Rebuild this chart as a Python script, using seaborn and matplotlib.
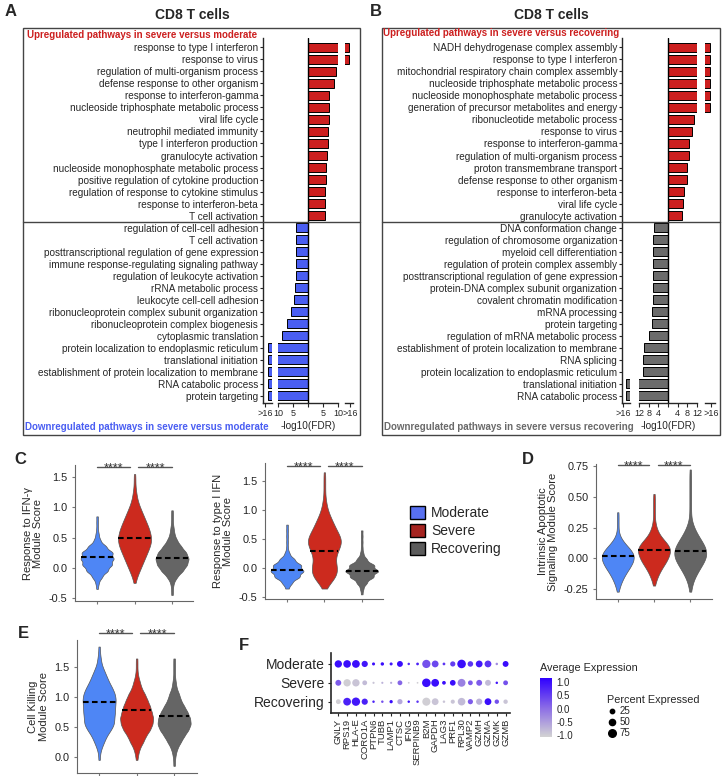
import numpy as np
import pandas as pd
import seaborn as sns
import matplotlib.pyplot as plt
from matplotlib.patches import Patch, Rectangle
from matplotlib.lines import Line2D
from matplotlib.colors import LinearSegmentedColormap, Normalize
from matplotlib.cm import ScalarMappable

sns.set_style("ticks")
plt.rcParams["font.family"] = ["Liberation Sans", "DejaVu Sans"]

W, H = 727, 776

# ---- A: GO terms, severe vs moderate, -log10(FDR); 17 stands for ">16" (beyond axis break)
a_up_terms = ["response to type I interferon", "response to virus",
              "regulation of multi-organism process", "defense response to other organism",
              "response to interferon-gamma", "nucleoside triphosphate metabolic process",
              "viral life cycle", "neutrophil mediated immunity", "type I interferon production",
              "granulocyte activation", "nucleoside monophosphate metabolic process",
              "positive regulation of cytokine production",
              "regulation of response to cytokine stimulus", "response to interferon-beta",
              "T cell activation"]
a_up_vals = [17, 17, 9.2, 8.7, 7.0, 7.0, 7.0, 6.8, 6.8, 6.2, 6.0, 5.9, 5.8, 5.7, 5.7]
a_down_terms = ["regulation of cell-cell adhesion", "T cell activation",
                "posttranscriptional regulation of gene expression",
                "immune response-regulating signaling pathway",
                "regulation of leukocyte activation", "rRNA metabolic process",
                "leukocyte cell-cell adhesion", "ribonucleoprotein complex subunit organization",
                "ribonucleoprotein complex biogenesis", "cytoplasmic translation",
                "protein localization to endoplasmic reticulum", "translational initiation",
                "establishment of protein localization to membrane", "RNA catabolic process",
                "protein targeting"]
a_down_vals = [3.9, 3.9, 4.1, 4.1, 4.1, 4.4, 4.8, 5.6, 7.0, 8.6, 17, 17, 17, 17, 17]

# ---- B: GO terms, severe vs recovering
b_up_terms = ["NADH dehydrogenase complex assembly", "response to type I interferon",
              "mitochondrial respiratory chain complex assembly",
              "nucleoside triphosphate metabolic process",
              "nucleoside monophosphate metabolic process",
              "generation of precursor metabolites and energy",
              "ribonucleotide metabolic process", "response to virus",
              "response to interferon-gamma", "regulation of multi-organism process",
              "proton transmembrane transport", "defense response to other organism",
              "response to interferon-beta", "viral life cycle", "granulocyte activation"]
b_up_vals = [17, 17, 17, 17, 17, 17, 10.6, 9.9, 8.8, 8.5, 8.0, 7.9, 6.5, 6.1, 5.8]
b_down_terms = ["DNA conformation change", "regulation of chromosome organization",
                "myeloid cell differentiation", "regulation of protein complex assembly",
                "posttranscriptional regulation of gene expression",
                "protein-DNA complex subunit organization", "covalent chromatin modification",
                "mRNA processing", "protein targeting", "regulation of mRNA metabolic process",
                "establishment of protein localization to membrane", "RNA splicing",
                "protein localization to endoplasmic reticulum", "translational initiation",
                "RNA catabolic process"]
b_down_vals = [5.9, 6.2, 6.2, 6.2, 6.2, 6.2, 6.2, 6.6, 6.6, 8.0, 9.8, 10.3, 10.3, 17, 17]

# ---- C/D/E: module scores as binned cell counts (score bin -> number of cells)
groups = ["Moderate", "Severe", "Recovering"]
ifng_bins = [-0.45, -0.35, -0.25, -0.15, -0.05, 0.05, 0.15, 0.25, 0.35, 0.45, 0.55,
             0.65, 0.75, 0.85, 0.95, 1.05, 1.15, 1.25, 1.35, 1.45, 1.55]
ifng_mod = [0, 1, 2, 6, 13, 18, 20, 19, 11, 4, 2, 1, 1, 1, 0, 0, 0, 0, 0, 0, 0]
ifng_sev = [0, 0, 1, 3, 6, 9, 12, 15, 18, 20, 19, 17, 14, 11, 8, 5, 3, 2, 1, 1, 1]
ifng_rec = [1, 1, 2, 6, 13, 18, 20, 17, 11, 6, 3, 2, 1, 1, 1, 0, 0, 0, 0, 0, 0]
ifng_medians = [0.18, 0.50, 0.155]

ifn1_bins = [-0.45, -0.35, -0.25, -0.15, -0.05, 0.05, 0.15, 0.25, 0.35, 0.45, 0.55,
             0.65, 0.75, 0.85, 0.95, 1.05, 1.15, 1.25, 1.35, 1.45, 1.55, 1.65]
ifn1_mod = [0, 2, 6, 15, 20, 17, 9, 3, 1, 1, 1, 1, 1, 0, 0, 0, 0, 0, 0, 0, 0, 0]
ifn1_sev = [0, 2, 7, 13, 15, 14, 12, 14, 17, 20, 18, 14, 11, 8, 5, 3, 2, 1, 1, 1, 1, 1]
ifn1_rec = [1, 2, 6, 14, 20, 15, 6, 2, 1, 1, 1, 1, 0, 0, 0, 0, 0, 0, 0, 0, 0, 0]
ifn1_medians = [-0.03, 0.30, -0.04]

apop_bins = [-0.275, -0.225, -0.175, -0.125, -0.075, -0.025, 0.025, 0.075, 0.125, 0.175,
             0.225, 0.275, 0.325, 0.375, 0.425, 0.475, 0.525, 0.575, 0.625, 0.675, 0.725]
apop_mod = [1, 3, 6, 10, 15, 19, 20, 15, 8, 3, 1, 1, 1, 1, 0, 0, 0, 0, 0, 0, 0]
apop_sev = [0, 1, 3, 6, 10, 15, 18, 20, 15, 8, 4, 2, 1, 1, 1, 1, 1, 0, 0, 0, 0]
apop_rec = [1, 2, 4, 8, 12, 17, 20, 19, 15, 10, 6, 3, 1, 1, 1, 1, 1, 1, 1, 1, 1]
apop_medians = [0.02, 0.07, 0.06]

kill_bins = [-0.15, -0.05, 0.05, 0.15, 0.25, 0.35, 0.45, 0.55, 0.65, 0.75, 0.85,
             0.95, 1.05, 1.15, 1.25, 1.35, 1.45, 1.55, 1.65, 1.75, 1.85]
kill_mod = [0, 1, 1, 3, 6, 9, 14, 18, 18, 19, 19, 20, 19, 16, 12, 9, 6, 3, 2, 1, 1]
kill_sev = [0, 1, 2, 4, 8, 11, 16, 19, 20, 18, 16, 13, 10, 6, 4, 2, 1, 1, 1, 0, 0]
kill_rec = [1, 1, 2, 4, 8, 12, 17, 20, 19, 16, 12, 8, 6, 3, 2, 1, 1, 1, 1, 0, 0]
kill_medians = [0.92, 0.78, 0.69]

# ---- F: dot plot
genes = ["GNLY", "RPS19", "HLA-E", "CORO1A", "PTPN6", "TUBB", "LAMP1", "CTSC", "IFNG",
         "SERPINB9", "B2M", "GAPDH", "LAG3", "PRF1", "RPL30", "VAMP2", "GZMH", "GZMA",
         "GZMK", "GZMB"]
avg_mod = [1.0, 1.0, 1.0, 0.9, 1.0, 1.0, 0.9, 1.0, 0.7, 0.8, 0.3, 0.4, 0.6, 0.5, 1.0, 0.6,
           0.9, 0.6, -0.3, 1.0]
pct_mod = [70, 75, 78, 50, 12, 15, 12, 45, 8, 10, 88, 60, 10, 35, 95, 40, 60, 60, 8, 45]
avg_sev = [0.2, -1.0, -0.9, -0.8, -0.9, -0.7, -0.6, 0.1, -1.0, -1.0, 1.0, 1.0, 1.0, 1.0, -0.2,
           0.2, 0.2, -0.8, 0.9, 0.3]
pct_sev = [45, 70, 70, 30, 6, 6, 6, 30, 4, 4, 95, 78, 18, 42, 80, 30, 45, 45, 8, 30]
avg_rec = [-1.0, 0.8, 0.9, 0.8, 0.8, 0.3, 1.0, -0.6, 0.9, 0.6, -1.0, -0.9, -0.9, -0.9, -0.8,
           0.2, -0.7, 1.0, 0.3, -0.9]
pct_rec = [30, 78, 90, 50, 8, 8, 14, 35, 8, 8, 85, 60, 8, 22, 75, 35, 50, 60, 25, 25]

RED = "#cc1f1f"
BLUE_BAR = "#4a5ef2"
GRAY_BAR = "#6b6b6b"
violin_colors = {"Moderate": "#4e86f5", "Severe": "#cc2a1e", "Recovering": "#656565"}
legend_colors = ["#5870f0", "#a52420", "#5c5c5c"]
DOT_MAX = 40

fig = plt.figure(figsize=(W / 100, H / 100), dpi=100)


def px_axes(x0, y0, x1, y1):
    return fig.add_axes([x0 / W, 1 - y1 / H, (x1 - x0) / W, (y1 - y0) / H])


def ftext(x, y, s, **kw):
    fig.text(x / W, 1 - y / H, s, **kw)


def go_panel(cols, up_terms, up_vals, down_terms, down_vals, down_color, lim, step, left_tick):
    terms = up_terms + down_terms
    df = pd.DataFrame({
        "row": range(len(terms)),
        "value": up_vals + [-v for v in down_vals],
        "direction": ["up"] * len(up_terms) + ["down"] * len(down_terms),
    })
    main_ticks = list(range(-lim, lim + 1, step))
    main_labels = [str(abs(t)) if t else "" for t in main_ticks]
    specs = [((-18, -16), [left_tick], [">16"]),
             ((-lim, lim), main_ticks, main_labels),
             ((16, 18), [17.2], [">16"])]
    axes = []
    for (x0, x1), (xlim, ticks, labels) in zip(cols, specs):
        ax = px_axes(x0, 38, x1, 403)
        sns.barplot(data=df, x="value", y="row", hue="direction",
                    palette={"up": RED, "down": down_color}, orient="h", dodge=False,
                    width=0.75, errorbar=None, edgecolor="black", linewidth=0.7,
                    saturation=1, legend=False, ax=ax)
        ax.set_xlim(*xlim)
        ax.set_ylim(len(terms) - 0.4, -0.78)
        ax.set_xticks(ticks, labels)
        ax.tick_params(axis="x", labelsize=6.5, length=3, width=0.8, pad=1.5)
        ax.set_xlabel("")
        ax.set_ylabel("")
        for s in ("top", "right"):
            ax.spines[s].set_visible(False)
        ax.spines["bottom"].set_linewidth(1)
        ax.spines["left"].set_linewidth(1)
        axes.append(ax)
    left, main, right = axes
    left.set_yticks(range(len(terms)), terms)
    left.tick_params(axis="y", labelsize=7.2, length=2.5, width=0.8, pad=1)
    for ax in (main, right):
        ax.spines["left"].set_visible(False)
        ax.set_yticks([])
    main.axvline(0, color="black", lw=1)
    main.set_xlabel("-log10(FDR)", fontsize=7.2, labelpad=2)
    return left


def frame(x0, x1, ax_left, n_up):
    fig.add_artist(Rectangle((x0 / W, 1 - 435 / H), (x1 - x0) / W, (435 - 28) / H,
                             transform=fig.transFigure, fill=False, ec="#444444", lw=1))
    y = fig.transFigure.inverted().transform(ax_left.transData.transform((0, n_up - 0.5)))[1]
    fig.add_artist(Line2D([x0 / W, x1 / W], [y, y], transform=fig.transFigure,
                          color="#444444", lw=1))


# ---------------- A
ax_a = go_panel([(263, 272), (278, 338), (345, 353)], a_up_terms, a_up_vals,
                a_down_terms, a_down_vals, BLUE_BAR, 10, 5, -17.6)
frame(23, 360, ax_a, len(a_up_terms))
ftext(27, 34.5, "Upregulated pathways in severe versus moderate", color=RED,
      fontsize=7, fontweight="bold", va="center")
ftext(25, 427, "Downregulated pathways in severe versus moderate", color=BLUE_BAR,
      fontsize=7, fontweight="bold", va="center")
ftext(192, 15, "CD8 T cells", fontsize=10, fontweight="bold", ha="center", va="center")
ftext(11, 12, "A", fontsize=12, fontweight="bold", ha="center", va="center")

# ---------------- B
ax_b = go_panel([(622, 630), (639, 697), (705, 715)], b_up_terms, b_up_vals,
                b_down_terms, b_down_vals, GRAY_BAR, 12, 4, -17.8)
frame(382, 720, ax_b, len(b_up_terms))
ftext(383, 33.5, "Upregulated pathways in severe versus recovering", color=RED,
      fontsize=7, fontweight="bold", va="center")
ftext(384, 426.7, "Downregulated pathways in severe versus recovering", color="#6a6a6a",
      fontsize=7, fontweight="bold", va="center")
ftext(551, 15, "CD8 T cells", fontsize=10, fontweight="bold", ha="center", va="center")
ftext(376, 12, "B", fontsize=12, fontweight="bold", ha="center", va="center")


# ---------------- violins
def span_at(poly, y):
    v = poly.get_paths()[0].vertices
    xs = []
    for (x0, y0), (x1, y1) in zip(v[:-1], v[1:]):
        if y0 != y1 and (y0 - y) * (y1 - y) <= 0:
            xs.append(x0 + (y - y0) * (x1 - x0) / (y1 - y0))
    return min(xs), max(xs)


def violin_panel(box, bins, counts, medians, bw, ylim, xlim, yticks, fmt, ylabel, sig_y):
    ax = px_axes(*box)
    df = pd.DataFrame({"group": np.repeat(groups, [sum(c) for c in counts]),
                       "score": np.concatenate([np.repeat(bins, c) for c in counts])})
    sns.violinplot(data=df, x="group", y="score", hue="group", order=groups,
                   hue_order=groups, palette=violin_colors, cut=0, density_norm="width",
                   width=0.88, bw_method=bw, inner=None, linewidth=0.5,
                   linecolor="#555555", saturation=1, legend=False, ax=ax)
    for poly, m in zip(ax.collections, medians):
        lo, hi = span_at(poly, m)
        ax.plot([lo, hi], [m, m], color="black", lw=1.5, ls=(0, (2.7, 1.6)))
    ax.set_ylim(*ylim)
    ax.set_xlim(*xlim)
    ax.set_yticks(yticks, [fmt.format(t) for t in yticks])
    ax.set_xticks([0, 1, 2], ["", "", ""])
    ax.tick_params(axis="y", labelsize=7.8, labelcolor="#222222", length=2, color="#777777")
    ax.tick_params(axis="x", length=2.5, color="#777777")
    ax.set_xlabel("")
    ax.set_ylabel(ylabel, fontsize=8, linespacing=1.05)
    sns.despine(ax=ax)
    for s in ("left", "bottom"):
        ax.spines[s].set_color("#666666")
        ax.spines[s].set_linewidth(0.8)
    for a, b in ((0, 0.87), (1.1, 2.0)):
        ax.plot([a, b], [sig_y, sig_y], color="#555555", lw=1, clip_on=False)
        ax.annotate("****", xy=((a + b) / 2, sig_y), xytext=(0, -3),
                    textcoords="offset points", ha="center", va="baseline", fontsize=9,
                    color="#333333", annotation_clip=False)
    return ax


violin_panel((75, 465, 193, 601), ifng_bins, [ifng_mod, ifng_sev, ifng_rec], ifng_medians,
             0.22, (-0.55, 1.70), (-0.59, 2.56), [-0.5, 0, 0.5, 1.0, 1.5], "{:.1f}",
             "Response to IFN-γ\nModule Score", 1.67)
violin_panel((265, 463, 383, 599), ifn1_bins, [ifn1_mod, ifn1_sev, ifn1_rec], ifn1_medians,
             0.22, (-0.53, 1.81), (-0.59, 2.57), [-0.5, 0, 0.5, 1.0, 1.5], "{:.1f}",
             "Response to type I IFN\nModule Score", 1.75)
violin_panel((596, 464, 712, 599), apop_bins, [apop_mod, apop_sev, apop_rec], apop_medians,
             0.28, (-0.335, 0.77), (-0.6, 2.6), [-0.25, 0, 0.25, 0.5, 0.75], "{:.2f}",
             "Intrinsic Apoptotic\nSignaling Module Score", 0.76)
violin_panel((77, 640, 197, 773), kill_bins, [kill_mod, kill_sev, kill_rec], kill_medians,
             0.18, (-0.27, 1.96), (-0.59, 2.61), [0, 0.5, 1.0, 1.5], "{:.1f}",
             "Cell Killing\nModule Score", 2.08)

ftext(20, 460, "C", fontsize=12, fontweight="bold", ha="center", va="center")
ftext(528, 460, "D", fontsize=12, fontweight="bold", ha="center", va="center")
ftext(23, 634, "E", fontsize=12, fontweight="bold", ha="center", va="center")
ftext(244, 645, "F", fontsize=12, fontweight="bold", ha="center", va="center")

fig.legend(handles=[Patch(facecolor=c, edgecolor="black", lw=1) for c in legend_colors],
           labels=groups, loc="center left", bbox_to_anchor=(410 / W, 1 - 531 / H),
           frameon=False, fontsize=10, handlelength=1.1, handleheight=1.1,
           labelspacing=0.25, handletextpad=0.4, borderpad=0, borderaxespad=0)

# ---------------- F dot plot
dot_cmap = LinearSegmentedColormap.from_list("dot", ["#d3d3d3", "#8a6be6", "#2f00ff"])
dot_norm = Normalize(-1.06, 1.14)
f_df = pd.DataFrame({"gene": genes * 3,
                     "condition": np.repeat(groups, len(genes)),
                     "avg": avg_mod + avg_sev + avg_rec,
                     "pct": pct_mod + pct_sev + pct_rec})
ax_f = px_axes(331, 653, 510, 713)
sns.scatterplot(data=f_df, x="gene", y="condition", hue="avg", palette=dot_cmap,
                hue_norm=dot_norm, size="pct", sizes=(0, DOT_MAX), size_norm=(0, 100),
                linewidth=0, legend=False, ax=ax_f)
ax_f.set_xlim(-0.83, 19.5)
ax_f.set_ylim(2.6, -0.58)
ax_f.set_xticks(range(len(genes)), genes, rotation=90)
ax_f.set_yticks(range(3), groups)
ax_f.tick_params(axis="x", labelsize=6.8, length=2.5, pad=1.5)
ax_f.tick_params(axis="y", labelsize=10, length=2.5, pad=2)
ax_f.set_xlabel("")
ax_f.set_ylabel("")
sns.despine(ax=ax_f)
for s in ("left", "bottom"):
    ax_f.spines[s].set_linewidth(1.2)

cax = px_axes(540, 678, 552, 737)
cb = fig.colorbar(ScalarMappable(norm=dot_norm, cmap=dot_cmap), cax=cax)
cb.set_ticks([-1, -0.5, 0, 0.5, 1], labels=["-1.0", "-0.5", "0.0", "0.5", "1.0"])
cb.outline.set_visible(False)
cax.tick_params(labelsize=7, length=0, pad=3)
ftext(540, 668, "Average Expression", fontsize=7.8, va="center")

size_handles = [Line2D([], [], marker="o", ls="", color="black",
                       markersize=np.sqrt(DOT_MAX * p / 100)) for p in (25, 50, 75)]
fig.legend(handles=size_handles, labels=["25", "50", "75"], title="Percent Expressed",
           alignment="left", loc="upper left", bbox_to_anchor=(607 / W, 1 - 695 / H),
           frameon=False, fontsize=7, title_fontsize=7.8, labelspacing=0.1,
           handletextpad=0.3, handlelength=1.0, borderpad=0, borderaxespad=0)

fig.savefig("out.png", dpi=100)
